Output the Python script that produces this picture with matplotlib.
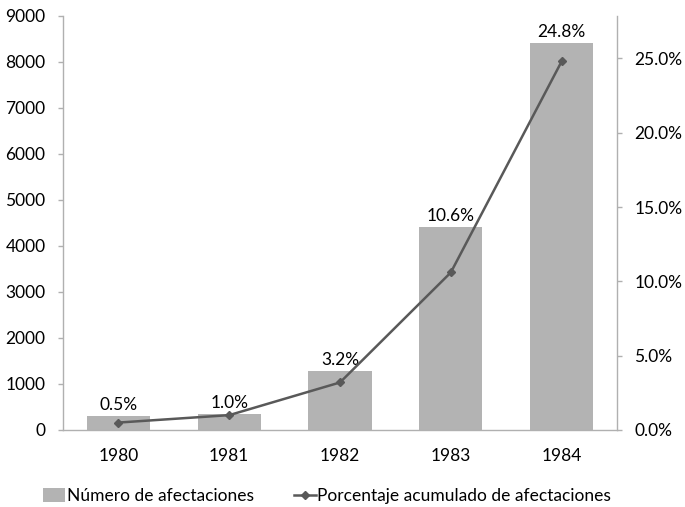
import matplotlib
matplotlib.use("Agg")
import matplotlib.pyplot as plt
from matplotlib.lines import Line2D
from matplotlib.patches import Patch
import numpy as np

years = ["1980", "1981", "1982", "1983", "1984"]
afectaciones = [300, 345, 1285, 4420, 8410]
porcentaje = [0.005, 0.010, 0.032, 0.106, 0.248]
etiquetas = ["0.5%", "1.0%", "3.2%", "10.6%", "24.8%"]

plt.rcParams['font.family'] = ['Lato', 'DejaVu Sans']
FS = 12.5
bar_color = "#b3b3b3"
line_color = "#595959"
spine_color = "#b0b0b0"

fig = plt.figure(figsize=(6.85, 5.07), dpi=100)
ax = fig.add_axes([63/685, 1-430/507, (617-63)/685, (430-16)/507])
x = np.arange(len(years))
ax.bar(x, afectaciones, width=0.57, color=bar_color, zorder=2)
ax.set_xlim(-0.5, len(years)-0.5)
ax.set_ylim(0, 9000)
ax.set_yticks(np.arange(0, 9001, 1000))
ax.set_xticks(x)
ax.set_xticklabels(years)
for i, (v, lab) in enumerate(zip(afectaciones, etiquetas)):
    ax.annotate(lab, (x[i], v), xytext=(0, 2), textcoords="offset points",
                ha="center", va="bottom", fontsize=FS, color="#000000", zorder=5)

ax2 = ax.twinx()
ax2.plot(x, porcentaje, color=line_color, lw=1.8, marker="D", markersize=4.5,
         markerfacecolor=line_color, markeredgecolor=line_color, zorder=4)
ax2.set_ylim(0, 0.2786)
ax2.set_yticks(np.arange(0, 0.2501, 0.05))
ax2.set_yticklabels([f"{t*100:.1f}%" for t in np.arange(0, 0.2501, 0.05)])

for a in (ax, ax2):
    for s in a.spines.values():
        s.set_visible(False)
ax.spines['left'].set_visible(True)
ax.spines['bottom'].set_visible(True)
ax2.spines['right'].set_visible(True)
for s in (ax.spines['left'], ax.spines['bottom'], ax2.spines['right']):
    s.set_color(spine_color)
    s.set_linewidth(1.0)

ax.tick_params(axis='y', length=3.6, width=1, color=spine_color, pad=9, labelsize=FS, labelcolor="#000000")
ax.tick_params(axis='x', length=0, pad=13, labelsize=FS, labelcolor="#000000")
ax2.tick_params(axis='y', length=3.6, width=1, color=spine_color, pad=9, labelsize=FS, labelcolor="#000000")

handles = [Patch(facecolor=bar_color, edgecolor='none'),
           Line2D([0], [0], color=line_color, lw=1.8, marker="D", markersize=4.5)]
labels = ["Número de afectaciones", "Porcentaje acumulado de afectaciones"]
fig.legend(handles, labels, loc="center", bbox_to_anchor=(327/685, 1-496/507), ncol=2,
           frameon=False, fontsize=FS, handlelength=1.3, handletextpad=0.08,
           columnspacing=2.3, handleheight=0.85, borderpad=0.2)

fig.savefig("out.png", dpi=100)
